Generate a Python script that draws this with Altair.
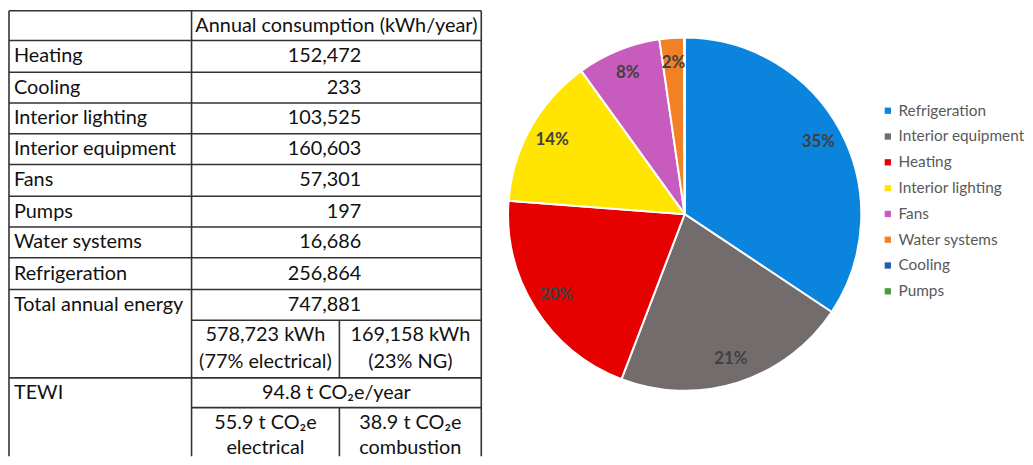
import altair as alt
import pandas as pd

# ---------------- data ----------------
categories = ["Heating", "Cooling", "Interior lighting", "Interior equipment",
              "Fans", "Pumps", "Water systems", "Refrigeration"]
consumption = [152472, 233, 103525, 160603, 57301, 197, 16686, 256864]
header_text = "Annual consumption (kWh/year)"
total_label = "Total annual energy"
split_energy = [["578,723 kWh", "(77% electrical)"], ["169,158 kWh", "(23% NG)"]]
tewi_label = "TEWI"
tewi_total = "94.8 t CO\u2082e/year"
split_tewi = [["55.9 t CO\u2082e", "electrical"], ["38.9 t CO\u2082e", "combustion"]]

pie_order = ["Refrigeration", "Interior equipment", "Heating", "Interior lighting",
             "Fans", "Water systems", "Cooling", "Pumps"]
pie_labels = ["35%", "21%", "20%", "14%", "8%", "2%", "", ""]
pie_colors = ["#0A84DC", "#736C6C", "#E60000", "#FFE500",
              "#C85CBE", "#F28024", "#1F5EB8", "#4C9A3C"]

# ---------------- table layout ----------------
FONT = "Lato"
W, H = 477, 449
col_x = [0, 184, 333, 476]
row_y = [0, 30, 62, 93, 124, 155, 187, 218, 249, 281, 312, 370, 400]

rules = []
for i, y in enumerate(row_y):
    if i in (10, 12):
        rules.append(dict(x=col_x[1], x2=col_x[3], y=y, y2=y))
    else:
        rules.append(dict(x=col_x[0], x2=col_x[3], y=y, y2=y))
for x in (col_x[0], col_x[1], col_x[3]):
    rules.append(dict(x=x, x2=x, y=0, y2=H))
rules.append(dict(x=col_x[2], x2=col_x[2], y=row_y[10], y2=row_y[11]))
rules.append(dict(x=col_x[2], x2=col_x[2], y=row_y[12], y2=H))
rules_df = pd.DataFrame(rules)

def mid(a, b):
    return (a + b) / 2

left_txt, right_txt, center_txt = [], [], []
for i, (c, v) in enumerate(zip(categories, consumption)):
    yc = mid(row_y[i + 1], row_y[i + 2])
    left_txt.append(dict(x=5, y=yc, t=c))
    right_txt.append(dict(x=355, y=yc, t=f"{v:,}"))
total = sum(consumption)
left_txt.append(dict(x=5, y=mid(row_y[9], row_y[10]), t=total_label))
right_txt.append(dict(x=355, y=mid(row_y[9], row_y[10]), t=f"{total:,}"))
left_txt.append(dict(x=5, y=mid(row_y[11], row_y[12]), t=tewi_label))
center_txt.append(dict(x=mid(col_x[1], col_x[3]), y=mid(row_y[0], row_y[1]), t=header_text))
center_txt.append(dict(x=mid(col_x[1], col_x[3]), y=mid(row_y[11], row_y[12]), t=tewi_total))
for j, pair in enumerate(split_energy):
    xc = mid(col_x[1 + j], col_x[2 + j])
    center_txt.append(dict(x=xc, y=row_y[10] + 15, t=pair[0]))
    center_txt.append(dict(x=xc, y=row_y[10] + 42, t=pair[1]))
for j, pair in enumerate(split_tewi):
    xc = mid(col_x[1 + j], col_x[2 + j])
    center_txt.append(dict(x=xc, y=row_y[12] + 16, t=pair[0]))
    center_txt.append(dict(x=xc, y=row_y[12] + 41, t=pair[1]))

xs = alt.Scale(domain=[0, W], nice=False, zero=False)
ys = alt.Scale(domain=[H, 0], nice=False, zero=False)

rule_layer = alt.Chart(rules_df).mark_rule(color="#333333", strokeWidth=1.6).encode(
    x=alt.X("x:Q", scale=xs, axis=None), x2="x2:Q",
    y=alt.Y("y:Q", scale=ys, axis=None), y2="y2:Q")

def text_layer(rows, align):
    return alt.Chart(pd.DataFrame(rows)).mark_text(
        align=align, baseline="middle", font=FONT, fontSize=20, color="#111111"
    ).encode(x=alt.X("x:Q", scale=xs, axis=None),
             y=alt.Y("y:Q", scale=ys, axis=None), text="t:N")

table = alt.layer(rule_layer, text_layer(left_txt, "left"),
                  text_layer(right_txt, "right"),
                  text_layer(center_txt, "center")).properties(width=W, height=H)

# ---------------- pie ----------------
pie_df = pd.DataFrame({
    "category": pie_order,
    "value": [consumption[categories.index(c)] for c in pie_order],
    "label": pie_labels,
    "idx": list(range(len(pie_order))),
})
base = alt.Chart(pie_df).encode(
    theta=alt.Theta("value:Q", stack=True),
    order=alt.Order("idx:Q"))
arcs = base.mark_arc(outerRadius=178, stroke="white", strokeWidth=2).encode(
    color=alt.Color("category:N", scale=alt.Scale(domain=pie_order, range=pie_colors),
                    legend=alt.Legend(title=None, orient="none", legendX=878, legendY=93,
                                      symbolType="square", symbolSize=40,
                                      symbolStrokeWidth=0, labelFont=FONT,
                                      labelFontSize=15.5, labelColor="#595959",
                                      labelOffset=3, rowPadding=9, padding=0)))
labels = base.mark_text(radius=153, font=FONT, fontWeight="bold", fontSize=17,
                        color="#404040").encode(text="label:N")
pie = alt.layer(arcs, labels).properties(width=362, height=410)

chart = alt.hconcat(table, pie, spacing=22).properties(padding=0).configure_view(stroke=None)
chart.save("out.html", embed_options={"renderer": "svg", "actions": False})
